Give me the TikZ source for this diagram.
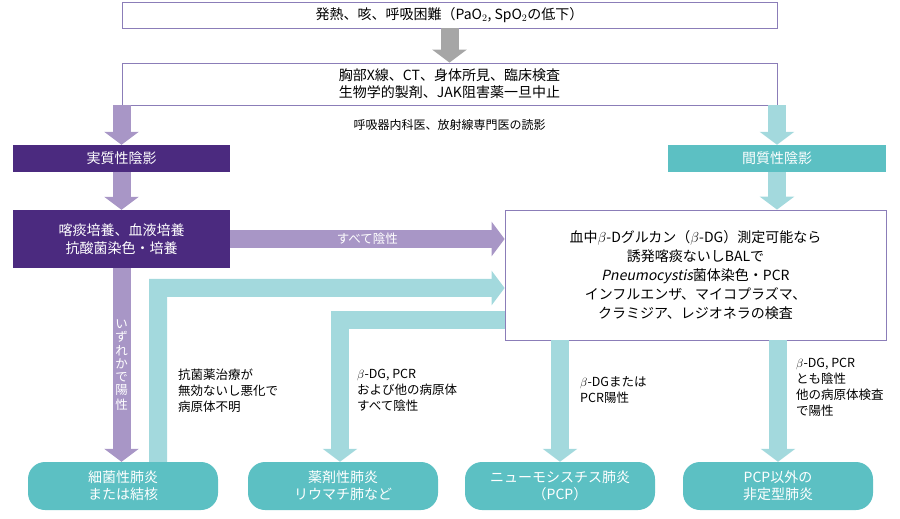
\documentclass[tikz,border=0pt]{standalone}
\usepackage{fontspec}
\setmainfont{Noto Sans CJK JP}
\newfontfamily\slantfont{Noto Sans CJK JP}[FakeSlant=0.2]
\usetikzlibrary{arrows.meta,positioning}
\definecolor{darkpurple}{HTML}{4B2A7F}
\definecolor{lightpurple}{HTML}{A896C6}
\definecolor{boxline}{HTML}{8B7DB8}
\definecolor{teal}{HTML}{5CC0C3}
\definecolor{lightteal}{HTML}{A3D9DD}
\definecolor{greyarrow}{HTML}{A6A6A6}
\tikzset{
	every box/.style={
		draw=boxline,
		fill=white,
		line width=0.8pt,
		align=center,
		inner sep=0pt,
		font=\fontsize{14}{17}\selectfont
	},
	head left/.style={
		fill=darkpurple,
		text=white,
		align=center,
		inner sep=0pt,
		font=\fontsize{14}{18}\selectfont
	},
	head right/.style={
		head left,
		fill=teal
	},
	result/.style={
		fill=teal,
		text=white,
		rounded corners=17pt,
		align=center,
		inner sep=0pt,
		minimum width=190pt,
		minimum height=48pt,
		font=\fontsize{14}{17}\selectfont
	},
	block/.style={
		line width=18pt,
		-{Triangle[length=13pt,width=34pt]}
	},
	note/.style={
		align=left,
		anchor=north west,
		inner sep=0pt,
		font=\fontsize{12.5}{16}\selectfont
	},
}
\begin{document}
\begin{tikzpicture}[x=1pt, y=-1pt]
\useasboundingbox (0,0) rectangle (900,519);

% boxes
\node [every box, minimum width=655pt, minimum height=26pt] (symptom) at (449.5,15) {発熱、咳、呼吸困難（PaO$_2$, SpO$_2$の低下）};
\node [every box, minimum width=655pt, minimum height=42pt] (exam) at (449.5,84) {胸部X線、CT、身体所見、臨床検査\\生物学的製剤、JAK阻害薬一旦中止};
\node [head left, minimum width=217pt, minimum height=27pt] (paren) at (121.5,158.5) {実質性陰影};
\node [head right, minimum width=218pt, minimum height=27pt] (inter) at (777,158.5) {間質性陰影};
\node [head left, minimum width=217pt, minimum height=58pt] (culture) at (121.5,239) {喀痰培養、血液培養\\抗酸菌染色・培養};
\node [every box, minimum width=381pt, minimum height=130pt, font=\fontsize{14}{19}\selectfont] (test) at (695.5,275)
	{血中$\beta$-Dグルカン（$\beta$-DG）測定可能なら\\誘発喀痰ないしBALで\\{\slantfont Pneumocystis}菌体染色・PCR\\インフルエンザ、マイコプラズマ、\\クラミジア、レジオネラの検査};

\node [result] (bact) at (123,486) {細菌性肺炎\\または結核};
\node [result] (drug) at (343,486) {薬剤性肺炎\\リウマチ肺など};
\node [result] (pcp) at (560,486) {ニューモシスチス肺炎\\（PCP）};
\node [result] (atyp) at (778,486) {PCP以外の\\非定型肺炎};

% arrows
\draw [block, greyarrow] (symptom.south) -- (exam.north);
\draw [block, lightpurple] (exam.south -| paren) -- (paren.north);
\draw [block, lightteal] (exam.south -| inter) -- (inter.north);
\node [font=\fontsize{12}{14}\selectfont] at (449.5,125) {呼吸器内科医、放射線専門医の読影};
\draw [block, lightpurple] (paren.south) -- (culture.north);
\draw [block, lightteal] (inter.south) -- (inter.south |- test.north);
\draw [block, lightpurple] (culture.east) -- (culture.east -| test.west)
	node [midway, text=white, font=\fontsize{12.5}{14}\selectfont] {すべて陰性};
\draw [block, lightpurple] (culture.south) -- (bact.north -| culture.south)
	node [midway, text=white, font=\fontsize{12.5}{13}\selectfont] {\shortstack{い\\ず\\れ\\か\\で\\陽\\性}};
\draw [line width=18pt, lightteal, -{Triangle[length=13pt,width=34pt]}, line join=miter]
	([xshift=35pt]bact.north) -- ++(0,-174) -- (test.west |- 0,288);
\draw [block, lightteal, line join=miter] (test.west |- 0,320) -- (340,320) -- (drug.north -| 340,0);
\draw [block, lightteal] (test.south -| pcp) -- (pcp.north);
\draw [block, lightteal] (test.south -| atyp) -- (atyp.north);

% notes
\node [note] at (178,369) {抗菌薬治療が\\無効ないし悪化で\\病原体不明};
\node [note] at (357,369) {$\beta$-DG, PCR\\および他の病原体\\すべて陰性};
\node [note] at (580,376) {$\beta$-DGまたは\\PCR陽性};
\node [note] at (796,358) {$\beta$-DG, PCR\\とも陰性\\他の病原体検査\\で陽性};
\end{tikzpicture}
\end{document}
